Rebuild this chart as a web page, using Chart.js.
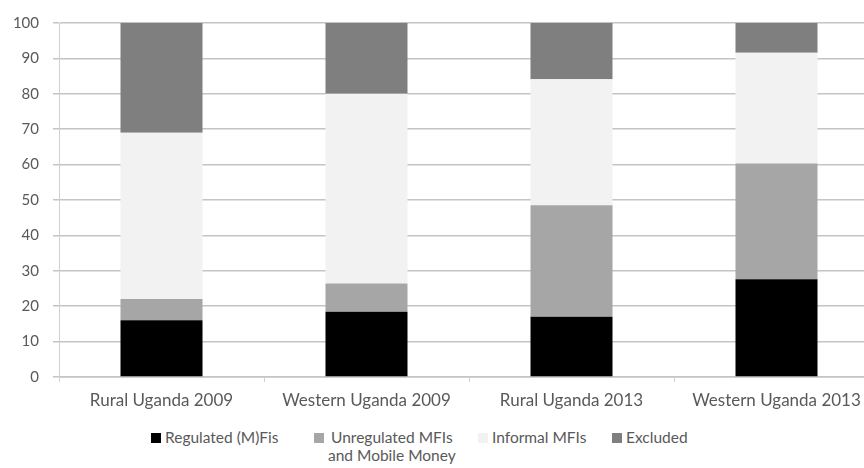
<!DOCTYPE html>
<html>
<head>
<meta charset="utf-8">
<script src="https://cdn.jsdelivr.net/npm/chart.js@4.4.0/dist/chart.umd.min.js"></script>
<style>
  html, body { margin: 0; padding: 0; background: #ffffff; overflow: hidden; }
  #wrap { position: relative; width: 864px; height: 468px; overflow: hidden; }
  #chart { position: absolute; left: 0; top: 0; }
  #legend { position: absolute; top: 428px; left: 0; width: 864px; height: 40px;
            font-family: Lato, "Liberation Sans", sans-serif; font-size: 15.5px; color: #595959; }
  .item { position: absolute; top: 0; line-height: 18px; }
  .sw { position: absolute; top: 5px; width: 10px; height: 10px; }
  .txt { margin-left: 14px; white-space: pre; text-align: center; }
</style>
</head>
<body>
<div id="wrap">
  <canvas id="chart" width="880" height="422"></canvas>
  <div id="legend"></div>
</div>
<script>
const categories = ["Rural Uganda 2009", "Western Uganda 2009", "Rural Uganda 2013", "Western Uganda 2013"];
const seriesNames = ["Regulated (M)Fis", "Unregulated MFIs\nand Mobile Money", "Informal MFIs", "Excluded"];
const regulated   = [16.0, 18.4, 17.0, 27.6];
const unregulated = [6.0, 8.0, 31.5, 32.7];
const informal    = [47.0, 53.6, 35.6, 31.3];
const excluded    = [31.0, 20.0, 15.9, 8.4];
const yTicks = [0, 10, 20, 30, 40, 50, 60, 70, 80, 90, 100];

const colors = ["#000000", "#a6a6a6", "#f2f2f2", "#7f7f7f"];
const values = [regulated, unregulated, informal, excluded];

const FONT = "Lato, 'Liberation Sans', sans-serif";

new Chart(document.getElementById("chart"), {
  type: "bar",
  data: {
    labels: categories,
    datasets: values.map((v, i) => ({
      label: seriesNames[i],
      data: v,
      backgroundColor: colors[i],
      borderWidth: 0,
      barPercentage: 0.4,
      categoryPercentage: 1.0
    }))
  },
  options: {
    responsive: false,
    animation: false,
    layout: { padding: { top: 22, right: 1, left: 0, bottom: 0 } },
    plugins: { legend: { display: false }, tooltip: { enabled: false } },
    scales: {
      x: {
        stacked: true,
        grid: { display: true, drawOnChartArea: false, offset: true, tickLength: 5, color: "#d0d0d0" },
        border: { color: "#d0d0d0" },
        ticks: { color: "#595959", font: { family: FONT, size: 17 }, padding: 8, maxRotation: 0, autoSkip: false },
        afterFit: (s) => { s.height = 45; }
      },
      y: {
        stacked: true,
        min: 0, max: 100,
        afterBuildTicks: (s) => { s.ticks = yTicks.map(v => ({ value: v })); },
        grid: { color: "#c4c4c4", tickLength: 6, lineWidth: 1.5 },
        border: { color: "#d0d0d0" },
        ticks: { color: "#595959", font: { family: FONT, size: 15 }, padding: 14 },
        afterFit: (s) => { s.width = 59; }
      }
    }
  }
});

// legend below the chart
const legendX = [151, 314, 478, 612];
const legend = document.getElementById("legend");
seriesNames.forEach((name, i) => {
  const item = document.createElement("div");
  item.className = "item";
  item.style.left = legendX[i] + "px";
  const sw = document.createElement("div");
  sw.className = "sw";
  sw.style.background = colors[i];
  item.appendChild(sw);
  const txt = document.createElement("div");
  txt.className = "txt";
  txt.textContent = name;
  item.appendChild(txt);
  legend.appendChild(item);
});
</script>
</body>
</html>
